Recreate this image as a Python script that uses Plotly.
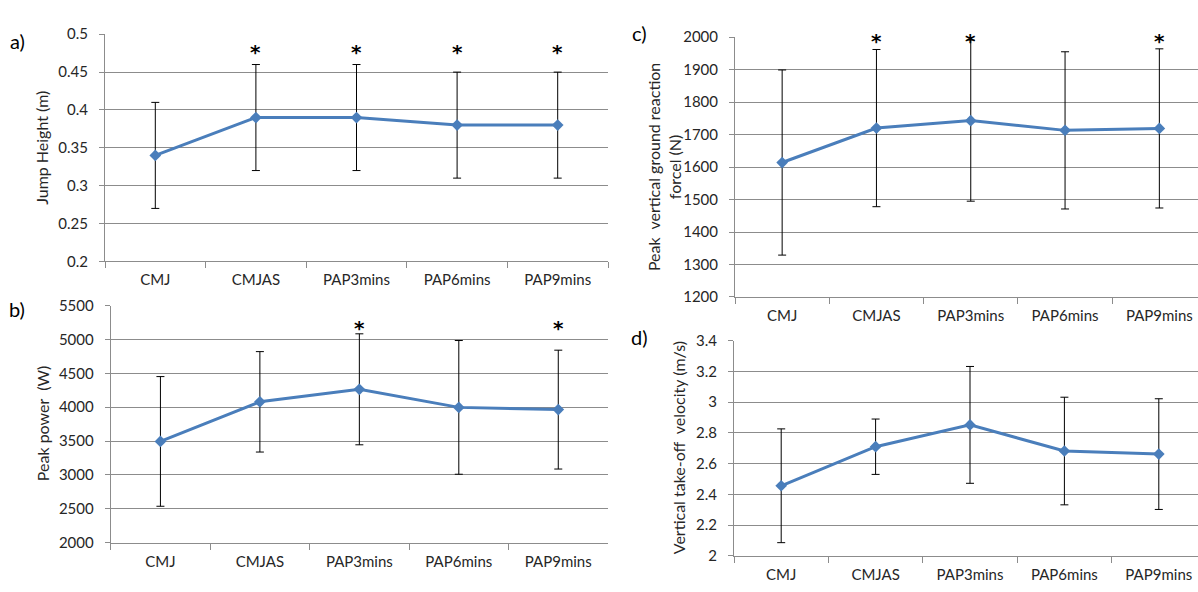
import plotly.graph_objects as go

categories = ["CMJ", "CMJAS", "PAP3mins", "PAP6mins", "PAP9mins"]

jump_height = [0.34, 0.39, 0.39, 0.38, 0.38]
jump_height_sd = [0.07, 0.07, 0.07, 0.07, 0.07]
jump_sig = ["CMJAS", "PAP3mins", "PAP6mins", "PAP9mins"]

peak_power = [3495, 4080, 4265, 3998, 3965]
peak_power_sd = [958, 742, 820, 988, 878]
power_sig = ["PAP3mins", "PAP9mins"]

peak_force = [1614, 1720, 1743, 1713, 1719]
peak_force_sd = [285, 242, 248, 242, 245]
force_sig = ["CMJAS", "PAP3mins", "PAP9mins"]

velocity = [2.456, 2.71, 2.852, 2.682, 2.662]
velocity_sd = [0.37, 0.18, 0.38, 0.35, 0.36]
velocity_sig = []

LINE = "#4A7EBB"
GRID = "#8C8C8C"
TXT = "#262626"
FONT = "Lato, 'Open Sans', sans-serif"
W, H = 1198, 592


def px_x(x):
    return x / W


def px_y(y):
    return 1 - y / H


panels = [
    dict(v=jump_height, sd=jump_height_sd, sig=jump_sig, sig_px=38.5,
         xd=(105, 608), yd=(25, 259.3), yr=(0.2, 0.5), dt=0.05, xmax=4.5,
         title="Jump Height (m)", label="a)", lab=(17, 32), tx=42),
    dict(v=peak_power, sd=peak_power_sd, sig=power_sig, sig_px=323,
         xd=(110.7, 608), yd=(305, 549.3), yr=(2000, 5500), dt=500, xmax=4.5,
         title="Peak power  (W)", label="b)", lab=(17, 308), tx=42),
    dict(v=peak_force, sd=peak_force_sd, sig=force_sig, sig_px=26.7,
         xd=(735, 1206.5), yd=(28, 296), yr=(1200, 2000), dt=100, xmax=4.5,
         title="Peak  vertical ground reaction<br>forcel (N)", label="c)", lab=(639, 24), tx=664),
    dict(v=velocity, sd=velocity_sd, sig=velocity_sig, sig_px=330,
         xd=(734, 1206), yd=(341, 563), yr=(2.0, 3.4), dt=0.2, xmax=4.5,
         title="Vertical take-off  velocity (m/s)", label="d)", lab=(639, 337), tx=678),
]

fig = go.Figure()
annotations = []
for i, p in enumerate(panels, start=1):
    xa = "x" if i == 1 else f"x{i}"
    ya = "y" if i == 1 else f"y{i}"
    fig.add_trace(go.Scatter(
        x=categories, y=p["v"], xaxis=xa, yaxis=ya, mode="lines+markers",
        line=dict(color=LINE, width=3),
        marker=dict(symbol="diamond", size=9, color=LINE),
        error_y=dict(type="data", array=p["sd"], visible=True, color="black",
                     thickness=1, width=4),
        showlegend=False, cliponaxis=False,
    ))
    x0, x1 = p["xd"]
    t, b = p["yd"]
    d0, d1 = px_x(x0), px_x(x1)
    rng = [-0.5, p["xmax"]]
    if d1 > 1:
        # plot area continues past the picture's right edge: crop it
        frac = (1 - d0) / (d1 - d0)
        rng = [-0.5, -0.5 + frac * (p["xmax"] + 0.5)]
        d1 = 1
    common_x = dict(
        domain=[d0, d1], type="category", range=rng,
        showgrid=False, showline=True, linecolor=GRID, linewidth=1,
        ticks="outside", tickson="boundaries", ticklen=6, tickcolor=GRID,
        tickfont=dict(family=FONT, size=15, color=TXT),
        anchor=ya, fixedrange=True, ticklabelstandoff=5,
    )
    common_y = dict(
        domain=[px_y(b), px_y(t)], range=list(p["yr"]), dtick=p["dt"],
        tick0=p["yr"][0],
        showgrid=True, gridcolor=GRID, gridwidth=1, zeroline=False,
        showline=True, linecolor=GRID, linewidth=1,
        ticks="outside", ticklen=5, tickcolor=GRID,
        tickfont=dict(family=FONT, size=15, color=TXT),
        anchor=xa, ticklabelstandoff=8, fixedrange=True,
    )
    key_x = "xaxis" if i == 1 else f"xaxis{i}"
    key_y = "yaxis" if i == 1 else f"yaxis{i}"
    fig.update_layout({key_x: common_x, key_y: common_y})

    for c in p["sig"]:
        annotations.append(dict(x=c, y=px_y(p["sig_px"]), xref=xa, yref="paper", text="<b>*</b>",
                                showarrow=False, font=dict(family="DejaVu Sans", size=20, color="black"),
                                yanchor="middle", yshift=-5))
    annotations.append(dict(x=px_x(p["lab"][0]), y=px_y(p["lab"][1]), xref="paper", yref="paper",
                            text=p["label"], showarrow=False,
                            font=dict(family=FONT, size=20, color="black"),
                            xanchor="center", yanchor="middle"))
    annotations.append(dict(x=px_x(p["tx"]), y=px_y((t + b) / 2), xref="paper", yref="paper",
                            text=p["title"], showarrow=False, textangle=-90,
                            font=dict(family=FONT, size=16, color=TXT),
                            xanchor="center", yanchor="middle"))

fig.update_layout(
    width=W, height=H, margin=dict(l=0, r=0, t=0, b=0),
    paper_bgcolor="white", plot_bgcolor="white",
    annotations=annotations, hovermode=False,
)

fig.write_html(
    "out.html",
    config={"displayModeBar": False, "staticPlot": True},
    post_script="document.body.style.margin='0px';document.documentElement.style.overflow='hidden';",
)
